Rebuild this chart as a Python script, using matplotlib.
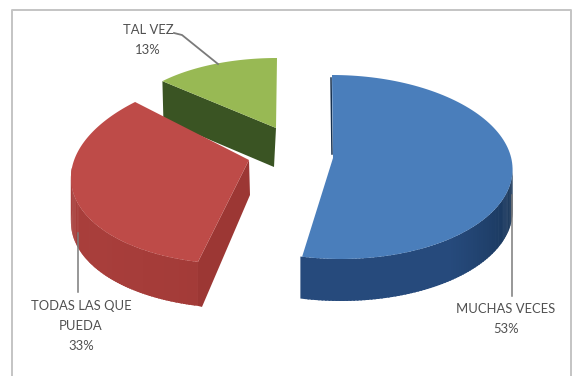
import numpy as np
import matplotlib
matplotlib.use("Agg")
import matplotlib.pyplot as plt
from matplotlib.colors import to_rgb

# data
labels = ["MUCHAS VECES\n53%", "TODAS LAS QUE\nPUEDA\n33%", "TAL VEZ\n13%"]
values = [53, 33, 13]

# look of the slices, one entry per slice
top_colors = ["#4a7ebb", "#be4b48", "#98b954"]
wall_dark = ["#15304f", "#a33b38", "#3a5423"]
wall_light = ["#264a7c", "#a83e3b", "#3a5423"]

# pseudo 3D geometry in pixels: ellipse centre, x radius, shear, y radius, apex, depth
centers = [(336.5, 167), (258.6, 167.6), (277, 130)]
radii = [(176, -4.5, 92), (186.6, 20, 96.7), (156, 0, 72)]
apexes = [(333, 158), (249, 160), (276, 128)]
depths = [42, 44, 39]

fig = plt.figure(figsize=(5.74, 3.76), dpi=100)
ax = fig.add_axes([0, 0, 1, 1])
ax.set_xlim(0, 574)
ax.set_ylim(376, 0)
ax.axis("off")

# chart frame, bottom edge falls off the picture
ax.plot([12, 12, 571, 571], [376, 9.5, 9.5, 376], color="#c4c4c4", lw=1.4, zorder=1)


def rim(i, theta, drop=0):
    cx, cy = centers[i]
    a, b, c = radii[i]
    x = cx + a * np.sin(theta) + b * np.cos(theta)
    y = cy - c * np.cos(theta) + drop
    return x, y


# slice angles clockwise from 12 o'clock
cum = np.cumsum([0] + values) / sum(values) * 2 * np.pi
starts, ends = cum[:-1], cum[1:]

# outer walls, front half only
for i in [0, 1]:
    th0 = max(starts[i], np.pi / 2)
    th1 = min(ends[i], 3 * np.pi / 2)
    th = np.linspace(th0, th1, 90)
    d0, l0 = np.array(to_rgb(wall_dark[i])), np.array(to_rgb(wall_light[i]))
    for k in range(len(th) - 1):
        t = (k + 0.5) / (len(th) - 1)
        col = d0 + (l0 - d0) * min(1, t * 2)
        x0, y0 = rim(i, th[k])
        x1, y1 = rim(i, th[k + 1] + 0.01)
        x2, y2 = rim(i, th[k + 1] + 0.01, depths[i])
        x3, y3 = rim(i, th[k], depths[i])
        ax.fill([x0, x1, x2, x3], [y0, y1, y2, y3], color=col, lw=0, zorder=3)

# green cut face sits behind the red slice
x, y = rim(2, starts[2])
ax.fill([x, apexes[2][0], apexes[2][0] - 2, x + 1],
        [y, apexes[2][1], apexes[2][1] + depths[2], y + depths[2]],
        color=wall_dark[2], lw=0, zorder=2)

# red cut face
x, y = rim(1, ends[0])
ax.fill([apexes[1][0], apexes[1][0] + 1, x + 4, x, x],
        [apexes[1][1], apexes[1][1] + 35, y + depths[1] + 1, y + depths[1], y],
        color="#9c3734", lw=0, zorder=3)

# blue sliver along the back cut
ax.plot([apexes[0][0] - 1, rim(0, 0)[0] - 1], [apexes[0][1] - 4, rim(0, 0)[1] + 3],
        color="#16304f", lw=1.1, zorder=3)

# top faces
for i in range(3):
    th = np.linspace(starts[i], ends[i], 120)
    x, y = rim(i, th)
    ax.fill(np.r_[apexes[i][0], x], np.r_[apexes[i][1], y],
            color=top_colors[i], lw=0, zorder=4)

# leader lines
line_col = "#7a7a7a"
ax.plot([512, 512], [195, 296], color=line_col, lw=1.1, zorder=5)
ax.plot([78, 78], [233, 292], color=line_col, lw=1.1, zorder=5)
ax.plot([174, 182, 218], [33, 35, 64], color=line_col, lw=1.3, zorder=5)

# data labels
font = {"family": "Lato", "size": 9.4, "color": "#505050", "ha": "center",
        "va": "center", "linespacing": 1.75, "zorder": 6}
ax.text(506, 319, labels[0], **font)
ax.text(81, 326, labels[1], **font)
ax.text(148, 40, labels[2], **font)

fig.savefig("out.png", dpi=100)
